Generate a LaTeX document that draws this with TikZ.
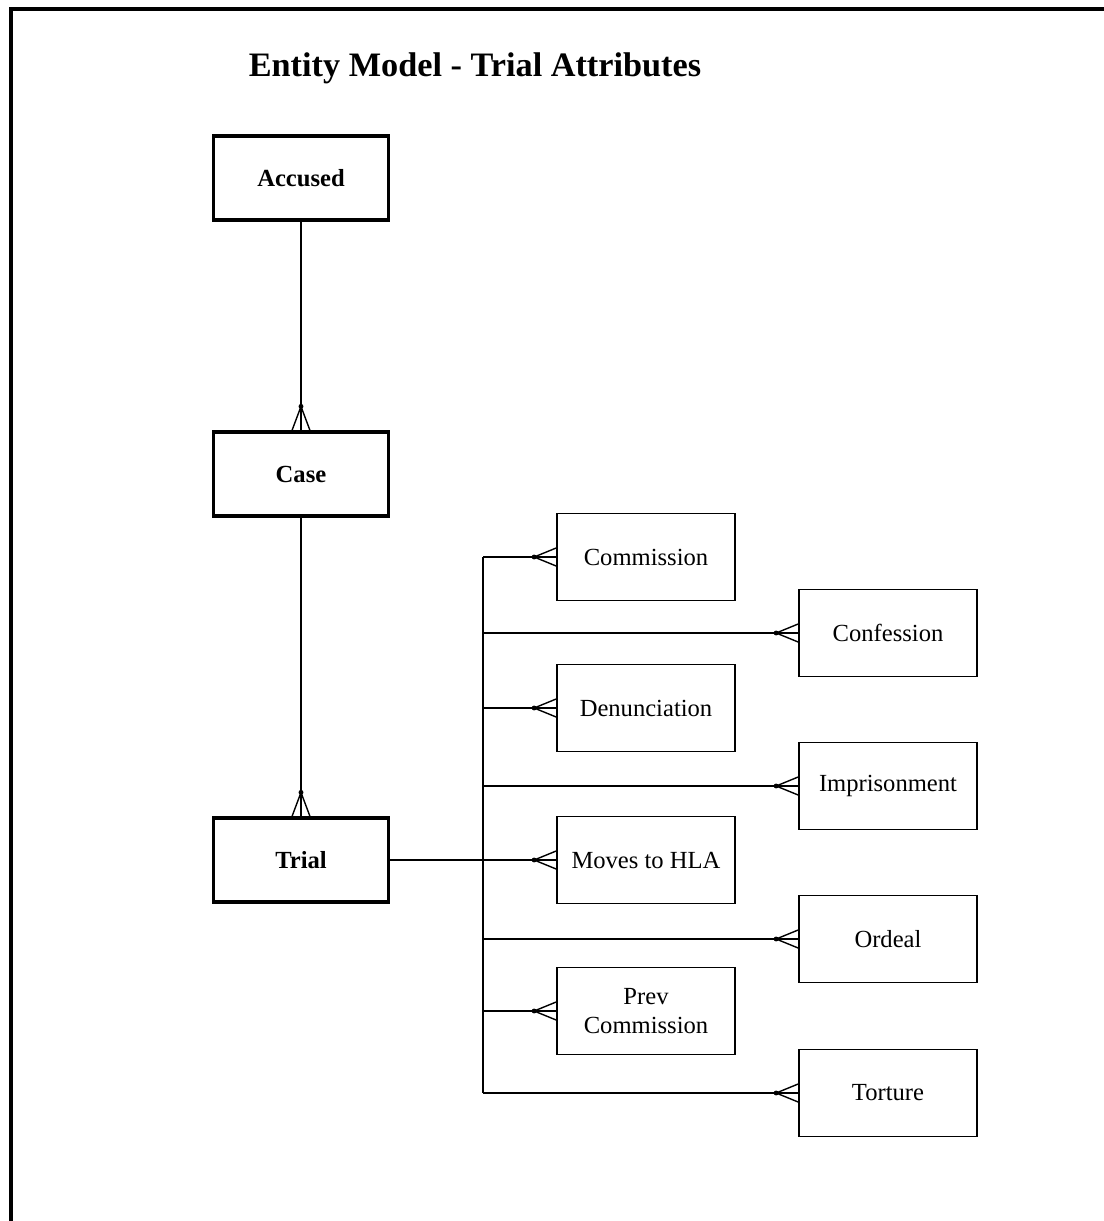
\documentclass[tikz,border=0pt]{standalone}
\usepackage{fontspec}
\setmainfont{Liberation Serif}
\usetikzlibrary{calc}

% crow's foot at the west side and at the north side of a node
\newcommand{\crowwest}[1]{%
    \draw[link] ($(#1.west)+(-22,0)$) -- ($(#1.west)+(0,-9)$)
        ($(#1.west)+(-22,0)$) -- ($(#1.west)+(0,9)$);
    \fill ($(#1.west)+(-22,0)$) circle[radius=1.4pt];}
\newcommand{\crownorth}[1]{%
    \draw[link] ($(#1.north)+(0,-24)$) -- ($(#1.north)+(-9,0)$)
        ($(#1.north)+(0,-24)$) -- ($(#1.north)+(9,0)$);
    \fill ($(#1.north)+(0,-24)$) circle[radius=1.4pt];}

\begin{document}
\begin{tikzpicture}[
    x=0.02cm, y=-0.02cm,
    entity/.style={draw, line width=1.8pt, minimum width=3.5cm, minimum height=1.68cm, font=\fontsize{14}{16}\selectfont\bfseries},
    attrib/.style={draw, line width=1pt, minimum width=3.56cm, minimum height=1.74cm, align=center, font=\fontsize{14}{16}\selectfont},
    link/.style={line width=0.8pt},
]
    \path[fill=white, use as bounding box] (0,0) rectangle (1104,1221);

    % frame
    \draw[line width=2.4pt] (11,1221) -- (11,9) -- (1104,9);

    % title
    \node[font=\fontsize{19.5}{22}\selectfont\bfseries] (title) at (475,68) {Entity Model - Trial Attributes};

    % entities
    \node[entity] (accused) at (301,178) {Accused};
    \node[entity] (case) at (301,474) {Case};
    \node[entity] (trial) at (301,860) {Trial};

    % attributes, left column
    \node[attrib] (commission) at (646,557) {Commission};
    \node[attrib] (denunciation) at (646,708) {Denunciation};
    \node[attrib] (moves) at (646,860) {Moves to HLA};
    \node[attrib] (prevcomm) at (646,1011) {Prev\\Commission};

    % attributes, right column
    \node[attrib] (confession) at (888,633) {Confession};
    \node[attrib] (imprison) at (888,786) {Imprisonment};
    \node[attrib] (ordeal) at (888,939) {Ordeal};
    \node[attrib] (torture) at (888,1093) {Torture};

    % entity links
    \draw[link] (accused.south) -- (case.north);
    \crownorth{case}
    \draw[link] (case.south) -- (trial.north);
    \crownorth{trial}

    % bus from trial to the attributes
    \coordinate (bustop) at (483,557);
    \coordinate (busbot) at (483,1093);
    \draw[link] (bustop) -- (busbot);
    \draw[link] (trial.east) -- (moves.west);
    \foreach \n in {commission,denunciation,moves,prevcomm,confession,imprison,ordeal,torture} {
        \draw[link] (\n.west -| bustop) -- (\n.west);
        \crowwest{\n}
    }
\end{tikzpicture}
\end{document}
